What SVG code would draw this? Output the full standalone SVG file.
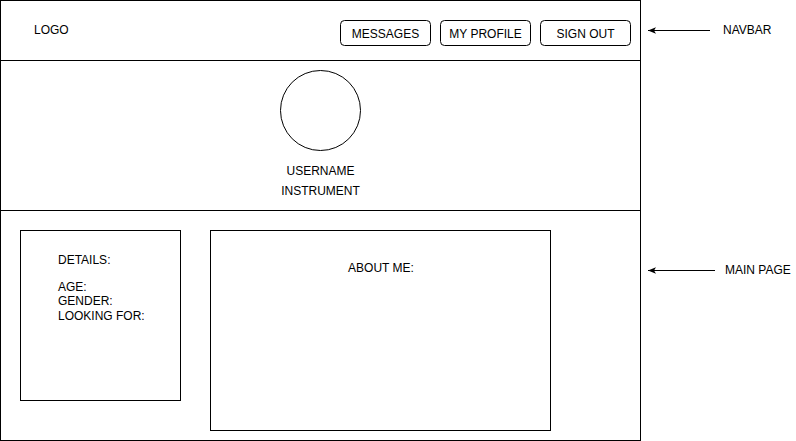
<svg xmlns="http://www.w3.org/2000/svg" width="796" height="441" viewBox="0 0 796 441">
<style>
text{font-family:"Liberation Sans",Arial,Helvetica,sans-serif;font-size:12px;fill:#000}
.box{fill:#fff;stroke:#000;stroke-width:1}
.c{text-anchor:middle}
.ln{stroke:#000;stroke-width:1;fill:none}
</style>
<defs>
<marker id="ah" viewBox="0 0 10 10" refX="10" refY="5" markerWidth="8" markerHeight="8" orient="auto" markerUnits="userSpaceOnUse">
<path d="M10,5 L0,1 L2.5,5 L0,9 Z" fill="#000"/>
</marker>
</defs>
<rect width="796" height="441" fill="#fff"/>
<g id="navbar">
<rect class="box" x="0.5" y="0.5" width="640" height="60"/>
<text x="34" y="34">LOGO</text>
</g>
<g id="btn-messages">
<rect class="box" x="340.5" y="20.5" width="90" height="25" rx="4"/>
<text class="c" x="385.5" y="37.5">MESSAGES</text>
</g>
<g id="btn-profile">
<rect class="box" x="440.5" y="20.5" width="90" height="25" rx="4"/>
<text class="c" x="485.5" y="37.5">MY PROFILE</text>
</g>
<g id="btn-signout">
<rect class="box" x="540.5" y="20.5" width="90" height="25" rx="4"/>
<text class="c" x="585.5" y="37.5">SIGN OUT</text>
</g>
<g id="profile-header">
<rect class="box" x="0.5" y="60.5" width="640" height="150"/>
<circle class="box" cx="320.5" cy="110.5" r="40"/>
<text class="c" x="320.5" y="174.5">USERNAME</text>
<text class="c" x="320.5" y="194.5">INSTRUMENT</text>
</g>
<g id="main-page">
<rect class="box" x="0.5" y="210.5" width="640" height="230"/>
</g>
<g id="details">
<rect class="box" x="20.5" y="230.5" width="160" height="170"/>
<text x="58" y="264">DETAILS:</text>
<text x="58" y="291">AGE:</text>
<text x="58" y="305">GENDER:</text>
<text x="58" y="320">LOOKING FOR:</text>
</g>
<g id="about-me">
<rect class="box" x="210.5" y="230.5" width="340" height="200"/>
<text class="c" x="381" y="272">ABOUT ME:</text>
</g>
<g id="label-navbar">
<text x="723" y="34">NAVBAR</text>
</g>
<g id="label-main">
<text x="725" y="274">MAIN PAGE</text>
</g>
<g id="connectors">
<line class="ln" x1="710" y1="30.5" x2="648" y2="30.5" marker-end="url(#ah)"/>
<line class="ln" x1="715" y1="270.5" x2="648" y2="270.5" marker-end="url(#ah)"/>
</g>
</svg>
